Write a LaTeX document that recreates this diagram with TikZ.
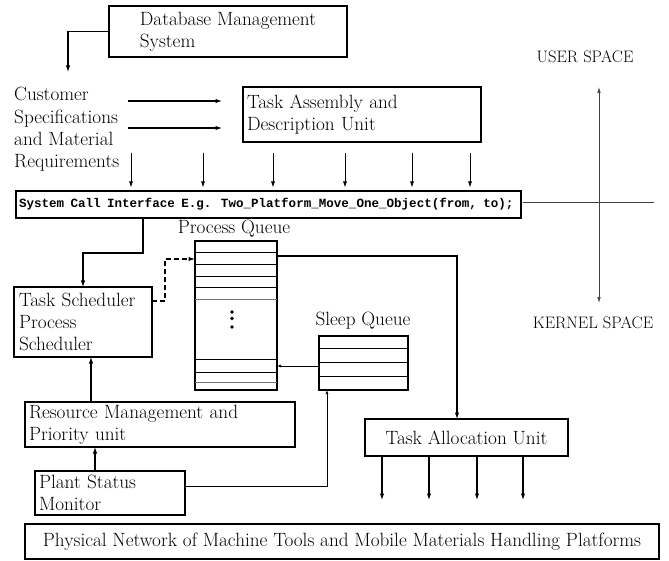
\documentclass[tikz,border=0pt]{standalone}
\usepackage{fontspec}
\newfontfamily\sysmono{Liberation Mono}
\usetikzlibrary{arrows.meta,calc}
\begin{document}
\begin{tikzpicture}[x=1pt,y=-1pt,
  every node/.style={font=\fontsize{19.2}{22.4}\selectfont},
  box/.style={draw,line width=1.4pt,anchor=north west,align=left,inner ysep=0pt,outer sep=0pt},
  qbox/.style={draw,line width=1.3pt,anchor=north west,inner sep=0pt,outer sep=0pt},
  arr/.style={-{Latex[length=6.5pt,width=4.5pt]},line width=1.1pt},
  thinarr/.style={-{Latex[length=6pt,width=4pt]},line width=0.8pt},
  smallarr/.style={-{Latex[length=4pt,width=3pt]},line width=0.8pt},
  qline/.style={line width=0.8pt},
  axis/.style={line width=0.7pt,black!75},
  small/.style={font=\fontsize{16.6}{19}\selectfont}
]
\useasboundingbox (0,0) rectangle (669,561);

% boxes
\node[box,minimum width=238,minimum height=51,inner xsep=4] (db) at (109,6)
  {Database Management\\System};
\node[anchor=north west,inner sep=0pt,align=left] (cust) at (14,87)
  {Customer\\Specifications\\and Material\\Requirements};
\node[box,minimum width=238,minimum height=55,inner xsep=4,text width=230] (tadu) at (243,87)
  {Task Assembly and\\Description Unit};
\node[box,minimum width=505,minimum height=27,inner xsep=3,text width=499] (sci) at (16,191)
  {\mbox{\sysmono\bfseries\fontsize{12.55}{14}\selectfont System Call Interface E.g. Two\_Platform\_Move\_One\_Object(from, to);}};
\node[box,minimum width=138,minimum height=70,inner xsep=5,text width=128] (ts) at (14,287)
  {Task Scheduler\\Process\\Scheduler};
\node[box,minimum width=270,minimum height=45,inner xsep=4,text width=262] (rm) at (25,402)
  {Resource Management and\\Priority unit};
\node[box,minimum width=150,minimum height=44,inner xsep=4,text width=142] (ps) at (35,471)
  {Plant Status\\Monitor};
\node[box,minimum width=203,minimum height=37,align=center] (tau) at (365,419)
  {Task Allocation Unit};
\node[box,minimum width=634,minimum height=35,align=center] (pn) at (25,524)
  {Physical Network of Machine Tools and Mobile Materials Handling Platforms};

% queues
\node[qbox,minimum width=82,minimum height=149] (pq) at (195,241) {};
\node (pql) at (234,229) {Process Queue};
\foreach \yy in {11,23,35,46,118,131}
  \draw[qline] ($(pq.north west)+(0,\yy)$) -- ++(82,0);
\foreach \yy in {58,141}
  \draw[qline,black!55] ($(pq.north west)+(0,\yy)$) -- ++(82,0);
\foreach \yy in {71,77.5,86}
  \fill ($(pq.north west)+(37,\yy)$) circle (1.9);

\node[qbox,minimum width=89,minimum height=54] (sq) at (319,336) {};
\node (sql) at (363,321) {Sleep Queue};
\foreach \yy in {12,26,40}
  \draw[qline] ($(sq.north west)+(0,\yy)$) -- ++(89,0);

% user / kernel space
\node[small] (us) at (585,57) {USER SPACE};
\node[small] (ks) at (593,323) {KERNEL SPACE};
\coordinate (u1) at (599,87);
\coordinate (u2) at (599,303);
\draw[axis,{Latex[length=6pt,width=3.5pt]}-{Latex[length=6pt,width=3.5pt]}] (u1) -- (u2);
\coordinate (h2) at (654,202);
\draw[axis] ($(h2 -| sci.east)+(2,0)$) -- (h2);

% connectors
\coordinate (dbend) at (68,72);
\draw[arr] (db.west) -| (dbend);

\coordinate (cs1) at (128,101);
\coordinate (cs2) at (128,128);
\draw[arr,shorten >=21pt] (cs1) -- (cs1 -| tadu.west);
\draw[arr,shorten >=21pt] (cs2) -- (cs2 -| tadu.west);

\foreach \i/\xx in {1/131,2/203,3/273,4/345,5/412,6/470}{
  \coordinate (v\i) at (\xx,153);
  \draw[thinarr,shorten >=3.5pt] (v\i) -- (v\i |- sci.north);
}

\coordinate (k1) at (143,253);
\draw[arr] (k1 |- sci.south) -- (k1) -| (ts.north);

\coordinate (d1) at (165,301);
\coordinate (d2) at (165,259);
\draw[arr,dashed,dash pattern=on 5pt off 3pt] (d1 -| ts.east) -- (d1) -- (d2) -- (d2 -| pq.west);

\coordinate (r1) at (91,380);
\draw[arr] (r1 |- rm.north) -- (r1 |- ts.south);

\coordinate (p1) at (95,460);
\draw[arr] (p1 |- ps.north) -- (p1 |- rm.south);

\coordinate (s1) at (327,486);
\draw[smallarr] (s1 -| ps.east) -- (s1) -- (s1 |- sq.south);

\coordinate (q1) at (300,366);
\draw[smallarr] (q1 -| sq.west) -- (q1 -| pq.east);

\coordinate (a1) at (457,256);
\draw[arr] (a1 -| pq.east) -- (a1) -- (a1 |- tau.north);

\foreach \i/\xx in {1/382,2/429,3/477,4/523}{
  \coordinate (t\i) at (\xx,500);
  \draw[arr] (t\i |- tau.south) -- (t\i);
}
\end{tikzpicture}
\end{document}
